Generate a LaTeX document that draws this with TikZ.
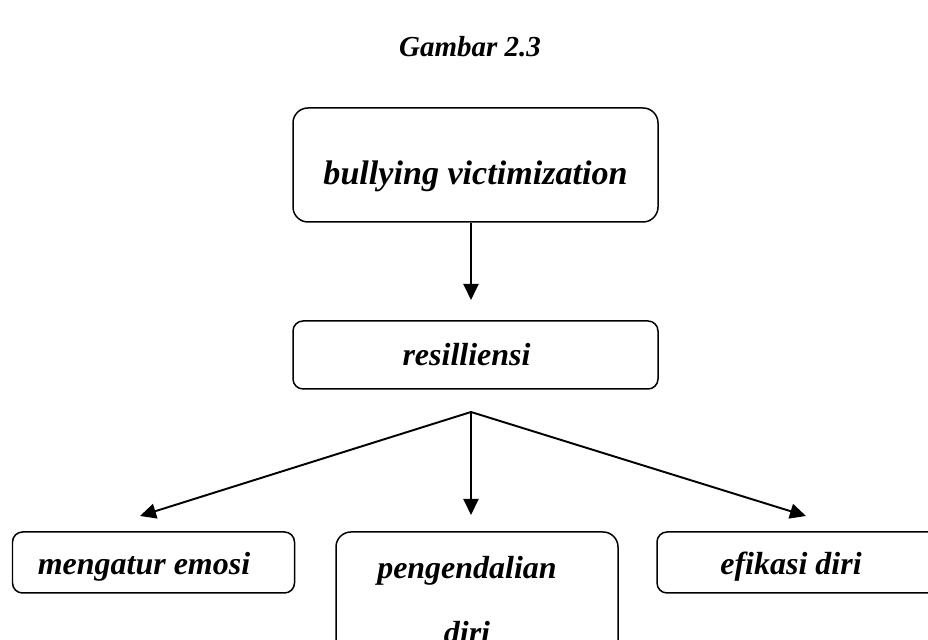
\documentclass[tikz,border=0pt]{standalone}
\usepackage{fontspec}
\setmainfont{Liberation Serif}
\usepackage{tikz}
\usetikzlibrary{arrows.meta}
\pgfdeclarelayer{edgelayer}
\pgfdeclarelayer{nodelayer}
\pgfsetlayers{edgelayer,nodelayer,main}
\tikzstyle{none}=[inner sep=0pt]
\tikzstyle{title_text}=[inner sep=0pt, font=\fontsize{16.5}{20}\selectfont\bfseries\itshape]
\tikzstyle{big_box}=[draw=black, line width=0.85pt, shape=rectangle, rounded corners=0.3cm, minimum width=7.3cm, font=\fontsize{18.2}{22}\selectfont\bfseries\itshape]
\tikzstyle{small_box}=[draw=black, line width=0.85pt, shape=rectangle, rounded corners=0.2cm, minimum width=5.64cm, minimum height=1.22cm, text height=0.65cm, text depth=0.15cm, font=\fontsize{18.2}{22}\selectfont\bfseries\itshape]
\tikzstyle{main_connector}=[-{Triangle[length=0.32cm, width=0.3cm]}, line width=1.1pt, draw=black]

\begin{document}
\begin{tikzpicture}
    \useasboundingbox (0, 0) rectangle (18.56, 12.8);
    \clip (0, 0) rectangle (18.56, 12.8);
    \begin{pgfonlayer}{nodelayer}
        % title
        \node [style={title_text}] (0) at (9.4, 11.86) {Gambar 2.3};

        % top boxes
        \node [style={big_box}, minimum height=2.28cm, text height=0.95cm, text depth=0.18cm, font=\fontsize{19.4}{23}\selectfont\bfseries\itshape] (1) at (9.51, 9.5) {bullying victimization};
        \node [style={big_box}, minimum height=1.36cm, rounded corners=0.2cm] (2) at (9.51, 5.7) {\hspace*{-0.36cm}resilliensi};

        % branching point
        \node [style=none] (3) at (9.42, 4.56) {};

        % bottom boxes
        \node [style={small_box}] (4) at (3.07, 1.55) {\hspace*{-0.38cm}mengatur emosi};
        \node [style={small_box}, rounded corners=0.3cm, minimum height=2.72cm, text height=, text depth=, align=center, font=\fontsize{18.2}{37}\selectfont\bfseries\itshape] (5) at (9.54, 0.8) {\hspace*{-0.4cm}pengendalian\\\hspace*{-0.4cm}diri};
        \node [style={small_box}] (6) at (15.96, 1.55) {\hspace*{-0.28cm}efikasi diri};

        % arrow ends
        \node [style=none] (10) at (9.42, 6.8) {};
        \node [style=none] (11) at (2.8, 2.48) {};
        \node [style=none] (12) at (9.42, 2.5) {};
        \node [style=none] (13) at (16.12, 2.48) {};
    \end{pgfonlayer}
    \begin{pgfonlayer}{edgelayer}
        \draw [style={main_connector}] (1.south -| 10) to (10.center);
        \draw [style={main_connector}] (3.center) to (11.center);
        \draw [style={main_connector}] (3.center) to (12.center);
        \draw [style={main_connector}] (3.center) to (13.center);
    \end{pgfonlayer}
\end{tikzpicture}
\end{document}
